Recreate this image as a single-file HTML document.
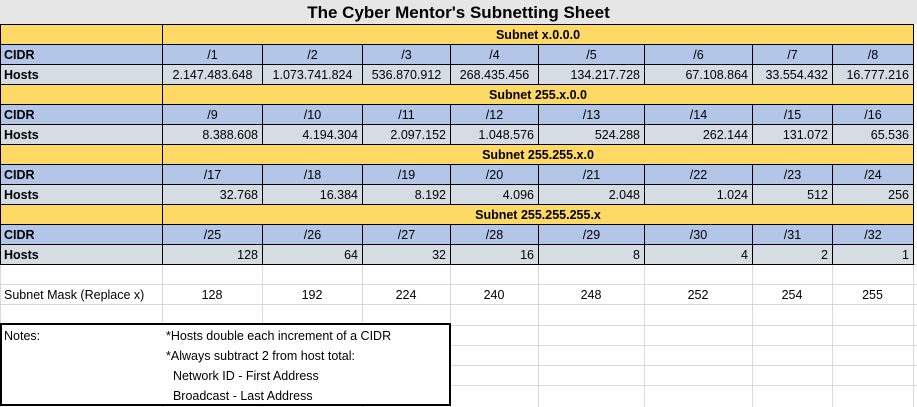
<!DOCTYPE html>
<html><head><meta charset="utf-8"><style>
body{margin:0;width:917px;height:407px;background:#fff;overflow:hidden;font-family:"Liberation Sans",Arial,sans-serif;font-size:12.5px;color:#000;position:relative}
.c{position:absolute;box-sizing:border-box;height:20px;line-height:21px;white-space:nowrap;overflow:hidden}
.vl{position:absolute;width:1px;background:#d9d9d9}
.hl{position:absolute;height:1px;background:#d9d9d9}
</style></head><body>
<div id="g"></div>
<script>
const X=[0,162,262,362,450,538,644,752,832,913];
let h='';
for(let y=264;y<=405;y+=20.2) h+=`<div class="hl" style="left:0;top:${Math.round(y)}px;width:917px"></div>`;
for(const x of X) h+=`<div class="vl" style="left:${x}px;top:264px;height:143px"></div>`;
h+=`<div class="c" style="left:0;top:0;width:917px;height:24px;background:#e7e6e6;font-weight:bold;font-size:17px;text-align:center;line-height:26px">The Cyber Mentor's Subnetting Sheet</div>`;
const B='1px solid #000';
function cell(x0,x1,y,txt,bg,st){h+=`<div class="c" style="left:${x0}px;top:${y}px;width:${x1-x0+1}px;height:21px;background:${bg};border:${B};${st}">${txt}</div>`;}
const sub=['Subnet x.0.0.0','Subnet 255.x.0.0','Subnet 255.255.x.0','Subnet 255.255.255.x'];
const hosts=[['2.147.483.648','1.073.741.824','536.870.912','268.435.456','134.217.728','67.108.864','33.554.432','16.777.216'],
['8.388.608','4.194.304','2.097.152','1.048.576','524.288','262.144','131.072','65.536'],
['32.768','16.384','8.192','4.096','2.048','1.024','512','256'],
['128','64','32','16','8','4','2','1']];
for(let b=0;b<4;b++){
 const y=24+b*60;
 cell(X[0],X[1],y,'','#ffd966','');
 cell(X[1],X[9],y,sub[b],'#ffd966','text-align:center;font-weight:bold');
 cell(X[0],X[1],y+20,'CIDR','#b4c6e7','font-weight:bold;padding-left:3px');
 cell(X[0],X[1],y+40,'Hosts','#d6dce4','font-weight:bold;padding-left:3px');
 for(let i=0;i<8;i++){
  cell(X[i+1],X[i+2],y+20,'/'+(b*8+i+1),'#b4c6e7','text-align:center');
  const al=(b==0&&i<4)?'text-align:center':'text-align:right;padding-right:4px';
  cell(X[i+1],X[i+2],y+40,hosts[b][i],'#d6dce4',al);
 }
}
const m=['128','192','224','240','248','252','254','255'];
h+=`<div class="c" style="left:4px;top:285px;width:158px">Subnet Mask (Replace x)</div>`;
for(let i=0;i<8;i++) h+=`<div class="c" style="left:${X[i+1]}px;top:285px;width:${X[i+2]-X[i+1]}px;text-align:center">${m[i]}</div>`;
h+=`<div style="position:absolute;left:0;top:323px;width:451px;height:83px;box-sizing:border-box;border:2px solid #000;background:#fff"></div>`;
h+=`<div class="c" style="left:4px;top:326px">Notes:</div>`;
const n=['*Hosts double each increment of a CIDR','*Always subtract 2 from host total:','&nbsp;&nbsp;Network ID - First Address','&nbsp;&nbsp;Broadcast - Last Address'];
n.forEach((t,i)=>h+=`<div class="c" style="left:166px;top:${326+i*20}px">${t}</div>`);
document.getElementById('g').innerHTML=h;
</script>
</body></html>
